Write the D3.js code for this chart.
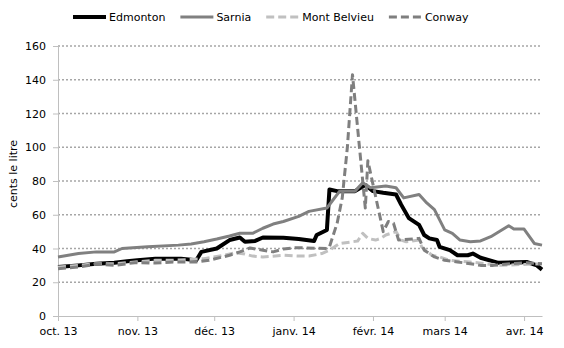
<!DOCTYPE html>
<html>
<head>
<meta charset="utf-8">
<script src="https://cdn.jsdelivr.net/npm/d3@7"></script>
<style>
  body { margin: 0; background: #fff; }
  text { font-family: "DejaVu Sans", Verdana, sans-serif; font-size: 11px; fill: #000; }
</style>
</head>
<body>
<script>
// series values: [date, cents per litre]
var edmonton = [
  ['2013-10-01', 29], ['2013-10-09', 30], ['2013-10-16', 31], ['2013-10-23', 31.5], ['2013-10-28', 32.5],
  ['2013-11-01', 33], ['2013-11-08', 34], ['2013-11-18', 34], ['2013-11-24', 33], ['2013-11-26', 38],
  ['2013-12-02', 40], ['2013-12-07', 45], ['2013-12-11', 46.5], ['2013-12-13', 44], ['2013-12-17', 44.5],
  ['2013-12-20', 46.5], ['2013-12-28', 46.4], ['2014-01-03', 45.6], ['2014-01-09', 44.4], ['2014-01-10', 48],
  ['2014-01-14', 51], ['2014-01-15', 75], ['2014-01-18', 74], ['2014-01-25', 74], ['2014-01-29', 77.6],
  ['2014-02-01', 74], ['2014-02-05', 73], ['2014-02-10', 72], ['2014-02-12', 66], ['2014-02-15', 58],
  ['2014-02-19', 54], ['2014-02-21', 48], ['2014-02-23', 46], ['2014-02-26', 45], ['2014-02-27', 41],
  ['2014-03-03', 39], ['2014-03-06', 36], ['2014-03-10', 36], ['2014-03-12', 37], ['2014-03-15', 34.5],
  ['2014-03-22', 31.5], ['2014-04-02', 32], ['2014-04-06', 30], ['2014-04-08', 27.5]
];
var sarnia = [
  ['2013-10-01', 35], ['2013-10-09', 37], ['2013-10-16', 38], ['2013-10-23', 38], ['2013-10-26', 40],
  ['2013-11-05', 41], ['2013-11-17', 42], ['2013-11-22', 42.7], ['2013-11-27', 44], ['2013-12-02', 45.6],
  ['2013-12-07', 47.4], ['2013-12-11', 49], ['2013-12-16', 49], ['2013-12-20', 52], ['2013-12-24', 54.5],
  ['2013-12-28', 56], ['2014-01-03', 59], ['2014-01-07', 62], ['2014-01-14', 64], ['2014-01-16', 68],
  ['2014-01-19', 74], ['2014-01-25', 74], ['2014-01-28', 79], ['2014-01-31', 76], ['2014-02-06', 77],
  ['2014-02-10', 76], ['2014-02-13', 70], ['2014-02-19', 72], ['2014-02-22', 67], ['2014-02-25', 63],
  ['2014-03-01', 51], ['2014-03-04', 49], ['2014-03-07', 45], ['2014-03-11', 44], ['2014-03-15', 44.5],
  ['2014-03-19', 47], ['2014-03-26', 53.5], ['2014-03-28', 51.5], ['2014-04-01', 51.5], ['2014-04-05', 43],
  ['2014-04-08', 42]
];
var montBelvieu = [
  ['2013-10-01', 29], ['2013-10-09', 30], ['2013-10-16', 31], ['2013-10-23', 31], ['2013-10-31', 32],
  ['2013-11-08', 33], ['2013-11-15', 33], ['2013-11-27', 34], ['2013-12-05', 36], ['2013-12-09', 37.5],
  ['2013-12-13', 36.7], ['2013-12-16', 35.5], ['2013-12-20', 35], ['2013-12-28', 36], ['2014-01-03', 35.5],
  ['2014-01-07', 35.5], ['2014-01-12', 37], ['2014-01-15', 39], ['2014-01-19', 43], ['2014-01-26', 44.4],
  ['2014-01-28', 49], ['2014-01-30', 46], ['2014-02-02', 45], ['2014-02-04', 46], ['2014-02-06', 48],
  ['2014-02-10', 50], ['2014-02-12', 45], ['2014-02-14', 44], ['2014-02-19', 45], ['2014-02-20', 41],
  ['2014-02-24', 36], ['2014-02-27', 35], ['2014-03-03', 33], ['2014-03-11', 32], ['2014-03-23', 30],
  ['2014-04-08', 31]
];
var conway = [
  ['2013-10-01', 28], ['2013-10-09', 29], ['2013-10-16', 30.8], ['2013-10-23', 30], ['2013-10-31', 31.6],
  ['2013-11-08', 31.4], ['2013-11-15', 32], ['2013-11-24', 32], ['2013-11-29', 33], ['2013-12-07', 36],
  ['2013-12-11', 38], ['2013-12-15', 40.3], ['2013-12-20', 39], ['2013-12-24', 38], ['2013-12-28', 39.7],
  ['2014-01-02', 40.5], ['2014-01-14', 40], ['2014-01-15', 41], ['2014-01-18', 55], ['2014-01-20', 70],
  ['2014-01-22', 100], ['2014-01-24', 143], ['2014-01-29', 64], ['2014-01-30', 92], ['2014-02-05', 50],
  ['2014-02-07', 56], ['2014-02-09', 55], ['2014-02-10', 50], ['2014-02-11', 45], ['2014-02-19', 46],
  ['2014-02-21', 39], ['2014-02-25', 35], ['2014-03-01', 33], ['2014-03-06', 32], ['2014-03-11', 31],
  ['2014-03-15', 30], ['2014-03-20', 30], ['2014-03-27', 31], ['2014-04-02', 31.6], ['2014-04-08', 31]
];

var seriesNames = ['Edmonton', 'Sarnia', 'Mont Belvieu', 'Conway'];
var monthTicks = ['2013-10-01', '2013-11-01', '2013-12-01', '2014-01-01', '2014-02-01', '2014-03-01', '2014-04-01'];
var monthLabels = ['oct. 13', 'nov. 13', 'déc. 13', 'janv. 14', 'févr. 14', 'mars 14', 'avr. 14'];
var yTicks = [0, 20, 40, 60, 80, 100, 120, 140, 160];
var yTitle = 'cents le litre';

// styles, same order as the series
var styles = [
  { color: '#000000', width: 4, dash: null },
  { color: '#808080', width: 3, dash: null },
  { color: '#c0c0c0', width: 3, dash: '8,4' },
  { color: '#7f7f7f', width: 3, dash: '8,4' }
];

var width = 564;
var height = 348;
var margin = { top: 46, right: 22, bottom: 32, left: 58 };

var parseDate = d3.timeParse('%Y-%m-%d');

var x = d3.scaleTime()
  .domain([parseDate('2013-10-01'), parseDate('2014-04-08')])
  .range([margin.left, width - margin.right]);
var y = d3.scaleLinear()
  .domain([0, 160])
  .range([height - margin.bottom, margin.top]);

var svg = d3.select('body').append('svg')
  .attr('width', width)
  .attr('height', height);

// quadrillage pointillé
svg.append('g')
  .selectAll('line')
  .data(yTicks.filter(function (d) { return d > 0; }))
  .enter()
  .append('line')
  .attr('x1', margin.left)
  .attr('x2', width - margin.right)
  .attr('y1', function (d) { return y(d); })
  .attr('y2', function (d) { return y(d); })
  .style('stroke', '#a6a6a6')
  .style('stroke-width', 1.5)
  .style('stroke-dasharray', '2,2');

// axe y
var yAxis = svg.append('g')
  .attr('transform', 'translate(' + margin.left + ',0)')
  .call(d3.axisLeft(y).tickValues(yTicks).tickSize(5).tickPadding(7));
yAxis.select('.domain').style('stroke', '#bfbfbf');
yAxis.selectAll('.tick line').style('stroke', '#bfbfbf');
yAxis.selectAll('text').style('font-size', '11px').style('font-family', '"DejaVu Sans", Verdana, sans-serif');

// axe x
var xAxis = svg.append('g')
  .attr('transform', 'translate(0,' + (height - margin.bottom) + ')')
  .call(d3.axisBottom(x)
    .tickValues(monthTicks.map(parseDate))
    .tickFormat(function (d, i) { return monthLabels[i]; })
    .tickSize(5)
    .tickPadding(6)
    .tickSizeOuter(0));
xAxis.select('.domain').style('stroke', '#bfbfbf');
xAxis.selectAll('.tick line').style('stroke', '#bfbfbf');
xAxis.selectAll('text').style('font-size', '11px').style('font-family', '"DejaVu Sans", Verdana, sans-serif');

// titre de l'axe y
svg.append('text')
  .attr('transform', 'translate(17,' + 174 + ') rotate(-90)')
  .attr('text-anchor', 'middle')
  .text(yTitle);

// les lignes
var line = d3.line()
  .x(function (d) { return x(parseDate(d[0])); })
  .y(function (d) { return y(d[1]); });

var allSeries = [edmonton, sarnia, montBelvieu, conway];
svg.append('g')
  .selectAll('path')
  .data(allSeries)
  .enter()
  .append('path')
  .attr('d', line)
  .style('fill', 'none')
  .style('stroke', function (d, i) { return styles[i].color; })
  .style('stroke-width', function (d, i) { return styles[i].width; })
  .style('stroke-dasharray', function (d, i) { return styles[i].dash; })
  .style('stroke-linejoin', 'round');

// légende
var legend = svg.append('g');
var lx = 73;
seriesNames.forEach(function (name, i) {
  legend.append('line')
    .attr('x1', lx)
    .attr('x2', lx + 33)
    .attr('y1', 17)
    .attr('y2', 17)
    .style('stroke', styles[i].color)
    .style('stroke-width', styles[i].width)
    .style('stroke-dasharray', styles[i].dash);
  var t = legend.append('text')
    .attr('x', lx + 36)
    .attr('y', 21)
    .text(name);
  lx += 36 + t.node().getComputedTextLength() + 15;
});
</script>
</body>
</html>
